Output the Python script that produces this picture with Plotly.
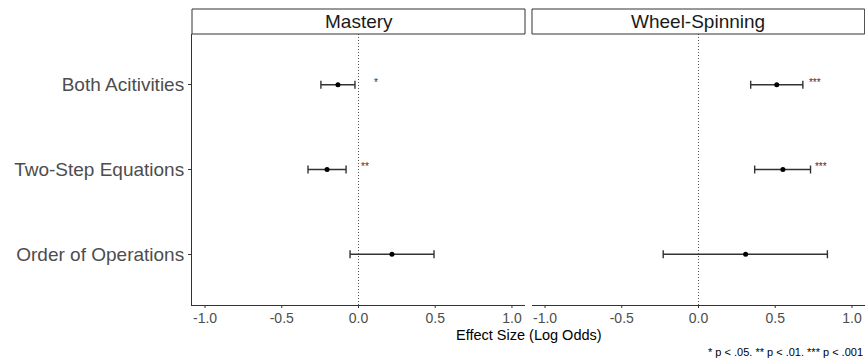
import plotly.graph_objects as go

categories = ["Both Acitivities", "Two-Step Equations", "Order of Operations"]
panels = ["Mastery", "Wheel-Spinning"]

mastery_est = [-0.134, -0.205, 0.218]
mastery_lo = [-0.245, -0.329, -0.055]
mastery_hi = [-0.023, -0.081, 0.492]
mastery_sig = ["*", "**", ""]
mastery_sig_x = [0.114, 0.042, None]

wheel_est = [0.51, 0.55, 0.307]
wheel_lo = [0.34, 0.366, -0.23]
wheel_hi = [0.68, 0.73, 0.84]
wheel_sig = ["***", "***", ""]
wheel_sig_x = [0.758, 0.797, None]

x_ticks = [-1.0, -0.5, 0.0, 0.5, 1.0]
x_ticktext = ["-1.0", "-0.5", "0.0", "0.5", "1.0"]

ypos = {c: len(categories) - i for i, c in enumerate(categories)}
yvals = [ypos[c] for c in categories]

FONT = "Liberation Sans, Arial, Helvetica, sans-serif"
fig = go.Figure()

series = [
    (mastery_est, mastery_lo, mastery_hi, mastery_sig, mastery_sig_x, "x", "y"),
    (wheel_est, wheel_lo, wheel_hi, wheel_sig, wheel_sig_x, "x2", "y2"),
]
for est, lo, hi, sig, sigx, xa, ya in series:
    fig.add_trace(go.Scatter(
        x=est, y=yvals, mode="markers", xaxis=xa, yaxis=ya,
        marker=dict(color="black", size=5),
        error_x=dict(type="data", symmetric=False,
                     array=[h - e for h, e in zip(hi, est)],
                     arrayminus=[e - l for e, l in zip(est, lo)],
                     color="#333333", thickness=1.4, width=4),
        showlegend=False, hoverinfo="skip"))
    tx = [x for x, s in zip(sigx, sig) if s]
    ty = [y + 0.02 for y, s in zip(yvals, sig) if s]
    tt = [s for s in sig if s]
    fig.add_trace(go.Scatter(
        x=tx, y=ty, mode="text", text=tt, xaxis=xa, yaxis=ya,
        textposition="middle center",
        textfont=dict(family=FONT, size=10, color="#333333"),
        showlegend=False, hoverinfo="skip"))

xr = [-1.085, 1.085]
yr = [0.4, 3.6]
xaxis_common = dict(range=xr, tickvals=x_ticks, ticktext=x_ticktext,
                    showgrid=False, zeroline=False, showline=True,
                    linecolor="#333333", linewidth=1, ticks="",
                    tickfont=dict(family=FONT, size=14, color="#4d4d4d"))
fig.update_layout(
    width=865, height=362,
    margin=dict(l=192, r=0, t=34, b=57),
    paper_bgcolor="white", plot_bgcolor="white",
    xaxis=dict(domain=[0, 0.4948], anchor="y", **xaxis_common),
    xaxis2=dict(domain=[0.5052, 1], anchor="y2", **xaxis_common),
    yaxis=dict(range=yr, tickvals=yvals, ticktext=categories, showgrid=False,
               zeroline=False, showline=True, linecolor="#333333", linewidth=1,
               ticks="outside", ticklen=3, tickcolor="#333333",
               tickfont=dict(family=FONT, size=19, color="#4d4d4d"), anchor="x"),
    yaxis2=dict(range=yr, showticklabels=False, showgrid=False, zeroline=False,
                showline=False, ticks="", anchor="x2"),
)

# x tick marks (drawn as short segments below each panel's axis line)
for xa, ya in [("x", "y"), ("x2", "y2")]:
    for tv in x_ticks:
        fig.add_shape(type="line", xref=xa, yref=ya + " domain", x0=tv, x1=tv,
                      y0=0, y1=-3 / 271, line=dict(color="#333333", width=1))

# dotted zero lines
for xa, ya in [("x", "y"), ("x2", "y2")]:
    fig.add_shape(type="line", xref=xa, yref=ya, x0=0, x1=0, y0=yr[0], y1=yr[1],
                  line=dict(color="#555555", width=1, dash="1px,2px"))

# facet strips
strip_top = 1 + 25 / 271
for dom, name in [((0, 0.4948), panels[0]), ((0.5052, 0.9995), panels[1])]:
    fig.add_shape(type="rect", xref="paper", yref="paper", x0=dom[0], x1=dom[1],
                  y0=1.0, y1=strip_top, line=dict(color="#333333", width=1),
                  fillcolor="white")
    fig.add_annotation(text=name, xref="paper", yref="paper",
                       x=(dom[0] + dom[1]) / 2, y=(1 + strip_top) / 2,
                       showarrow=False, font=dict(family=FONT, size=19, color="#1a1a1a"),
                       xanchor="center", yanchor="middle")

fig.add_annotation(text="Effect Size (Log Odds)", xref="paper", yref="paper",
                   x=0.5, y=-29.5 / 271, yanchor="middle", showarrow=False,
                   font=dict(family=FONT, size=14.5, color="black"))
fig.add_annotation(text="* p < .05. ** p < .01. *** p < .001", xref="paper", yref="paper",
                   x=1.0, y=-47 / 271, xanchor="right", yanchor="middle", showarrow=False,
                   font=dict(family=FONT, size=11, color="black"))

fig.write_html("out.html")
